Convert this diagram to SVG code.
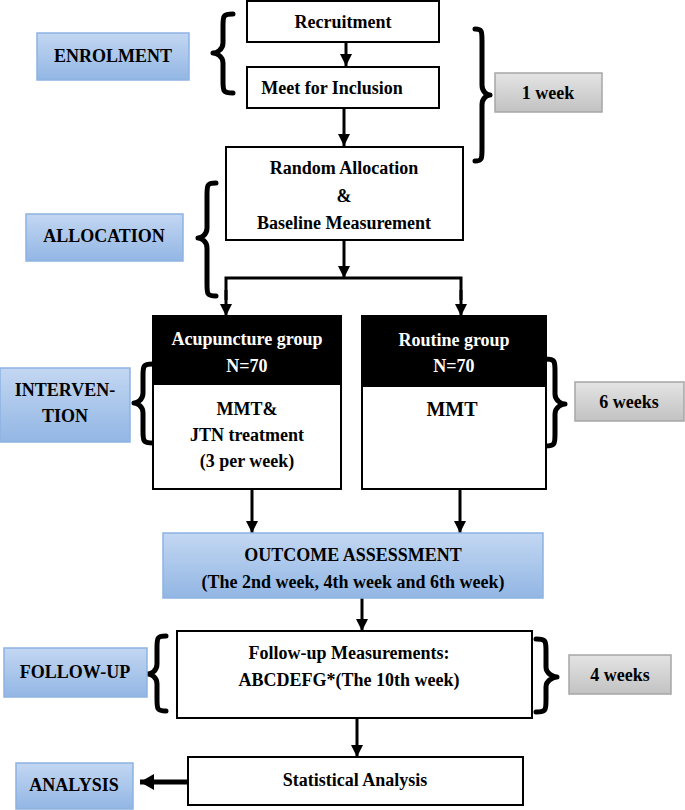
<svg xmlns="http://www.w3.org/2000/svg" width="685" height="810" viewBox="0 0 685 810">
<defs>
<linearGradient id="blue" x1="0" y1="0" x2="0" y2="1">
<stop offset="0" stop-color="#c3d7f2"/>
<stop offset="1" stop-color="#92b6e4"/>
</linearGradient>
<linearGradient id="gray" x1="0" y1="0" x2="0" y2="1">
<stop offset="0" stop-color="#e4e4e4"/>
<stop offset="1" stop-color="#c2c2c2"/>
</linearGradient>
<marker id="ah" markerUnits="userSpaceOnUse" markerWidth="12" markerHeight="12" refX="12" refY="6" orient="auto">
<path d="M0,0 L12,6 L0,12 z" fill="#000"/>
</marker>
<marker id="ah2" markerUnits="userSpaceOnUse" markerWidth="14" markerHeight="16" refX="14" refY="8" orient="auto">
<path d="M0,0 L14,8 L0,16 z" fill="#000"/>
</marker>
</defs>
<style>
text{font-family:"Liberation Serif","Times New Roman",serif;font-weight:bold;font-size:18px;text-anchor:middle;fill:#000}
.box{fill:#fff;stroke:#000;stroke-width:2}
.hdr{fill:#000}
.wt{fill:#fff}
.blue{fill:url(#blue);stroke:#8db3e2;stroke-width:1.5}
.gray{fill:url(#gray);stroke:#a6a6a6;stroke-width:1.5}
.brace{fill:none;stroke:#000;stroke-width:5;stroke-linecap:round;stroke-linejoin:round}
.ln{fill:none;stroke:#000;stroke-width:3}
.arr{fill:none;stroke:#000;stroke-width:3;marker-end:url(#ah)}
</style>

<g id="connectors">
<line class="arr" x1="346" y1="42" x2="346" y2="66"/>
<line class="arr" x1="344" y1="108" x2="344" y2="146"/>
<line class="arr" x1="344" y1="240" x2="344" y2="278"/>
<polyline class="ln" points="226,300 226,278 461,278 461,300"/>
<line class="arr" x1="226" y1="290" x2="226" y2="316"/>
<line class="arr" x1="461" y1="290" x2="461" y2="316"/>
<line class="arr" x1="252" y1="490" x2="252" y2="533"/>
<line class="arr" x1="460" y1="490" x2="460" y2="533"/>
<line class="arr" x1="362" y1="598" x2="362" y2="631"/>
<line class="arr" x1="357" y1="718" x2="357" y2="757"/>
<line x1="188" y1="782" x2="140" y2="782" stroke="#000" stroke-width="5" marker-end="url(#ah2)"/>
</g>

<g id="braces">
<path class="brace" d="M233,14 C223,14 223,16 223,26 L223,43 C223,50 216,53 213,53 C216,53 223,56 223,63 L223,81 C223,91 223,93 233,93"/>
<path class="brace" d="M475,29 C482,29 482,31 482,41 L482,85 C482,92 487,95 490,95 C487,95 482,98 482,105 L482,149 C482,159 482,161 475,161"/>
<path class="brace" d="M216,183 C207,183 207,185 207,195 L207,228 C207,235 201,238 198,238 C201,238 207,241 207,248 L207,284 C207,294 207,296 216,296"/>
<path class="brace" d="M153,364 C143,364 143,366 143,376 L143,393 C143,400 137,403 134,403 C137,403 143,406 143,413 L143,431 C143,441 143,443 153,443"/>
<path class="brace" d="M545,359 C555,359 555,361 555,371 L555,394 C555,401 562,404 565,404 C562,404 555,407 555,414 L555,434 C555,444 555,446 545,446"/>
<path class="brace" d="M166,636 C157,636 157,638 157,648 L157,664 C157,671 151,674 148,674 C151,674 157,677 157,684 L157,699 C157,709 157,711 166,711"/>
<path class="brace" d="M536,639 C546,639 546,641 546,651 L546,667 C546,674 554,677 557,677 C554,677 546,680 546,687 L546,700 C546,710 546,712 536,712"/>
</g>

<g id="enrolment"><rect class="blue" x="37" y="33" width="152" height="47"/><text x="113" y="62">ENROLMENT</text></g>
<g id="recruitment"><rect class="box" x="247" y="1" width="192" height="41"/><text x="343" y="28">Recruitment</text></g>
<g id="meet"><rect class="box" x="247" y="67" width="192" height="41"/><text x="332" y="94">Meet for Inclusion</text></g>
<g id="week1"><rect class="gray" x="495" y="73" width="107" height="39"/><text x="548" y="99">1 week</text></g>
<g id="random"><rect class="box" x="226" y="147" width="237" height="93"/><text x="344" y="174">Random Allocation</text><text x="344" y="202">&amp;</text><text x="344" y="229">Baseline Measurement</text></g>
<g id="allocation"><rect class="blue" x="26" y="214" width="157" height="47"/><text x="104" y="242">ALLOCATION</text></g>
<g id="intervention"><rect class="blue" x="0" y="368" width="130" height="74"/><text x="65" y="396">INTERVEN-</text><text x="65" y="422">TION</text></g>
<g id="acupuncture"><rect class="box" x="153" y="316" width="188" height="173"/><rect class="hdr" x="153" y="316" width="188" height="69"/><text class="wt" x="247" y="345">Acupuncture group</text><text class="wt" x="247" y="372">N=70</text><text x="247" y="415">MMT&amp;</text><text x="247" y="441">JTN treatment</text><text x="247" y="467">(3 per week)</text></g>
<g id="routine"><rect class="box" x="362" y="316" width="184" height="173"/><rect class="hdr" x="362" y="316" width="184" height="71"/><text class="wt" x="454" y="346">Routine group</text><text class="wt" x="454" y="372">N=70</text><text x="452" y="416" style="font-size:20px">MMT</text></g>
<g id="week6"><rect class="gray" x="575" y="382" width="109" height="39"/><text x="629" y="408">6 weeks</text></g>
<g id="outcome"><rect class="blue" x="163" y="533" width="380" height="65"/><text x="353" y="561">OUTCOME ASSESSMENT</text><text x="353" y="588">(The 2nd week, 4th week and 6th week)</text></g>
<g id="followuplabel"><rect class="blue" x="4" y="648" width="143" height="49"/><text x="75" y="678">FOLLOW-UP</text></g>
<g id="followup"><rect class="box" x="177" y="631" width="355" height="87"/><text x="349" y="659">Follow-up Measurements:</text><text x="349" y="686">ABCDEFG*(The 10th week)</text></g>
<g id="week4"><rect class="gray" x="569" y="655" width="102" height="39"/><text x="620" y="681">4 weeks</text></g>
<g id="statistical"><rect class="box" x="188" y="757" width="335" height="48"/><text x="355" y="786">Statistical Analysis</text></g>
<g id="analysis"><rect class="blue" x="16" y="763" width="117" height="46"/><text x="74" y="791">ANALYSIS</text></g>
</svg>
